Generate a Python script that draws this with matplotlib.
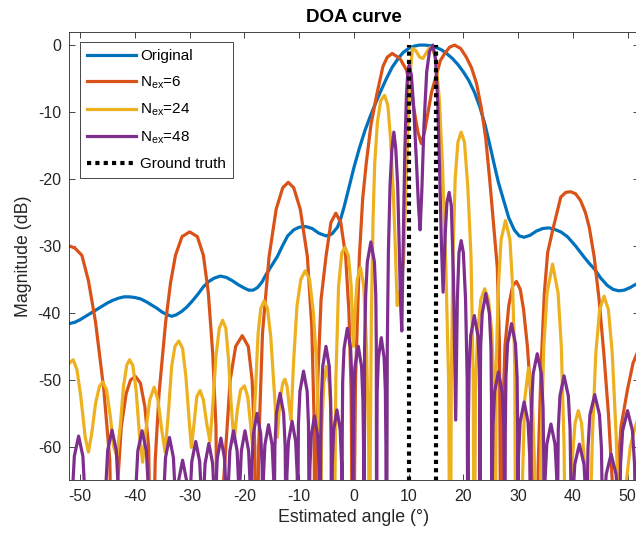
import matplotlib
import numpy as np

matplotlib.use("Agg")
import matplotlib.pyplot as plt

plt.rcParams["font.family"] = ["Liberation Sans", "DejaVu Sans"]
plt.rcParams["mathtext.fontset"] = "custom"
plt.rcParams["mathtext.rm"] = "Liberation Sans"
plt.rcParams["mathtext.it"] = "Liberation Sans:italic"
plt.rcParams["axes.unicode_minus"] = False

# (angle [deg], magnitude [dB]) samples of each spectrum
original = [
    (-52, -41.6), (-51, -41.4), (-50, -41.0), (-49, -40.5), (-48, -40.0), (-47, -39.5),
    (-46, -39.0), (-45, -38.5), (-44, -38.1), (-43, -37.8), (-42, -37.6), (-41, -37.6),
    (-40, -37.7), (-39, -37.9), (-38, -38.3), (-37, -38.8), (-36, -39.3), (-35, -39.9),
    (-34, -40.3), (-33.3, -40.5), (-32.5, -40.3), (-31.5, -39.8), (-30.5, -39.1),
    (-29.5, -38.2), (-28.5, -37.2), (-27.5, -36.1), (-26.5, -35.3), (-25.5, -34.8),
    (-24.4, -34.5), (-23.3, -34.7), (-22.2, -35.2), (-21.1, -35.8), (-20.0, -36.3),
    (-19.2, -36.6), (-18.4, -36.6), (-17.6, -36.2), (-16.8, -35.4), (-16.0, -34.2),
    (-15.0, -32.9), (-14.0, -31.6), (-13.0, -29.9), (-12.1, -28.5), (-11.0, -27.6),
    (-10.0, -27.2), (-8.8, -27.1), (-7.6, -27.4), (-6.4, -28.1), (-5.1, -28.5),
    (-4.0, -28.2), (-3.0, -27.2), (-2.4, -25.9), (-1.8, -24.2), (-1.0, -21.6),
    (0.0, -18.3), (1.0, -15.4), (2.0, -12.8), (3.0, -10.6), (4.0, -8.6), (5.0, -6.7),
    (6.0, -4.9), (7.0, -3.3), (8.0, -2.1), (9.0, -1.1), (10.0, -0.5), (11.0, -0.15),
    (12.0, 0.0), (13.0, 0.0), (14.0, -0.1), (15.0, -0.35), (16.0, -0.7), (17.0, -1.3),
    (18.0, -2.0), (19.0, -2.9), (20.0, -4.0), (21.0, -5.3), (22.0, -7.0), (23.0, -9.2),
    (24.0, -12.0), (25.0, -15.5), (25.6, -17.7), (26.4, -20.5), (27.4, -23.3),
    (28.3, -25.8), (29.3, -27.6), (30.2, -28.5), (31.1, -28.7), (32.2, -28.4),
    (33.3, -27.8), (34.5, -27.4), (35.6, -27.3), (36.6, -27.5), (37.8, -27.9),
    (39.0, -28.6), (40.5, -30.0), (42.0, -31.6), (43.0, -32.6), (43.9, -33.4),
    (45.1, -34.8), (46.3, -35.9), (47.4, -36.5), (48.4, -36.7), (49.4, -36.6),
    (50.5, -36.2), (52, -35.5),
]

nex6 = [
    (-52, -30.0), (-51.0, -30.3), (-49.7, -31.4), (-48.5, -35.2), (-47.2, -41.4),
    (-45.7, -51.4), (-44.6, -62.0), (-44.0, -90.0),
    (-43.2, -66.0), (-42.5, -57.0), (-41.6, -52.0), (-40.8, -50.0), (-39.9, -49.5),
    (-39.0, -50.5), (-38.2, -54.0), (-37.5, -60.0), (-37.0, -90.0),
    (-36.3, -62.0), (-35.6, -52.0), (-34.4, -41.4), (-33.5, -35.5), (-32.6, -31.4),
    (-31.4, -28.6), (-30.0, -27.9), (-28.6, -28.6), (-27.5, -31.4), (-26.6, -37.0),
    (-25.8, -46.0), (-25.2, -57.0), (-24.8, -90.0),
    (-24.2, -70.0), (-23.4, -60.0), (-22.6, -50.0), (-21.6, -45.0), (-20.4, -43.4),
    (-19.3, -45.0), (-18.6, -50.0), (-18.1, -60.0), (-17.8, -90.0),
    (-17.4, -60.0), (-16.7, -43.0), (-15.5, -31.6), (-14.2, -24.5), (-13.0, -21.3),
    (-12.0, -20.5), (-11.0, -21.3), (-9.8, -24.5), (-8.5, -31.6), (-7.7, -42.0),
    (-7.3, -55.0), (-7.0, -90.0),
    (-6.6, -50.0), (-6.0, -38.0), (-5.1, -31.6), (-4.2, -26.5), (-3.3, -25.1),
    (-2.4, -26.5), (-1.5, -31.6), (-0.9, -40.0), (-0.5, -52.0), (-0.2, -90.0),
    (0.3, -50.0), (1.0, -31.6), (1.6, -23.0), (2.25, -17.7), (3.1, -12.0),
    (4.1, -7.7), (5.3, -3.2), (6.1, -1.8), (7.0, -1.25), (8.4, -2.0), (9.6, -3.7),
    (10.4, -6.5), (11.1, -10.2), (11.7, -13.0), (12.3, -14.7), (12.9, -13.0),
    (13.5, -10.2), (14.2, -7.0), (15.0, -4.7), (15.8, -2.3), (16.6, -1.25),
    (17.5, -0.3), (18.4, 0.0), (19.5, -0.5), (20.5, -1.75), (21.5, -3.4),
    (22.4, -5.7), (23.3, -9.5), (24.1, -14.0), (24.8, -20.0), (25.6, -27.5),
    (26.2, -33.2), (26.6, -45.0), (26.9, -90.0),
    (27.2, -55.0), (27.6, -45.0), (28.3, -38.9), (29.0, -36.0), (29.7, -35.3),
    (30.4, -36.5), (31.0, -39.5), (31.7, -45.0), (32.3, -52.0), (32.8, -62.0),
    (33.2, -90.0),
    (33.7, -62.0), (34.2, -48.0), (34.8, -37.0), (35.4, -31.0), (36.3, -27.7),
    (37.8, -22.7), (38.7, -22.0), (39.6, -21.9), (40.5, -22.2), (41.4, -23.2),
    (42.3, -25.0), (43.0, -27.2), (43.9, -31.6), (44.8, -38.0), (45.7, -46.4),
    (46.5, -55.0), (47.2, -65.0), (47.6, -90.0),
    (48.1, -65.0), (48.8, -57.0), (50.0, -51.4), (51.0, -47.5), (52, -45.5),
]

nex24 = [
    (-52, -47.5), (-51.3, -47.0), (-50.6, -48.5), (-49.9, -52.5), (-49.1, -58.5),
    (-48.5, -60.8), (-47.9, -58.0), (-47.2, -53.5), (-46.5, -51.0), (-45.9, -50.3),
    (-45.2, -51.5), (-44.5, -55.5), (-43.9, -60.0), (-43.3, -61.4), (-42.7, -57.0),
    (-42.1, -51.0), (-41.5, -47.8), (-41.0, -47.0), (-40.4, -47.8), (-39.8, -51.5),
    (-39.2, -58.0), (-38.6, -62.3), (-38.0, -57.5), (-37.3, -53.0), (-36.5, -51.1),
    (-35.8, -53.0), (-35.1, -57.5), (-34.5, -60.8), (-33.9, -55.0), (-33.3, -48.0),
    (-32.7, -45.0), (-32.0, -44.2), (-31.3, -45.3), (-30.7, -49.5), (-30.1, -56.0),
    (-29.7, -60.1), (-29.2, -56.5), (-28.7, -52.5), (-28.1, -51.6), (-27.5, -53.0),
    (-26.9, -56.5), (-26.3, -59.2), (-25.8, -54.0), (-25.2, -46.5), (-24.6, -42.3),
    (-24.0, -41.1), (-23.4, -42.3), (-22.9, -47.0), (-22.4, -54.0), (-21.9, -59.3),
    (-21.3, -54.5), (-20.7, -51.5), (-20.0, -50.9), (-19.4, -52.5), (-18.9, -56.5),
    (-18.5, -60.2), (-18.0, -52.0), (-17.5, -43.0), (-17.0, -39.3), (-16.4, -38.2),
    (-15.8, -39.3), (-15.2, -43.5), (-14.6, -51.0), (-14.0, -58.6), (-13.5, -53.0),
    (-13.0, -50.5), (-12.6, -49.9), (-12.2, -51.0), (-11.8, -54.0), (-11.5, -56.0),
    (-11.0, -47.0), (-10.4, -39.0), (-9.7, -35.0), (-8.9, -33.7), (-8.1, -35.0),
    (-7.4, -40.0), (-6.8, -48.0), (-6.4, -60.0), (-6.2, -90.0),
    (-5.9, -58.0), (-5.5, -50.5), (-5.0, -48.0), (-4.5, -50.5), (-4.0, -58.0),
    (-3.7, -90.0),
    (-3.3, -50.0), (-2.8, -36.0), (-2.2, -31.0), (-1.6, -30.2), (-1.0, -31.5),
    (-0.5, -36.0), (-0.1, -45.0), (0.2, -40.0), (0.6, -35.0), (1.2, -33.2),
    (1.8, -36.0), (2.3, -45.0), (2.7, -60.0), (2.85, -90.0),
    (3.0, -60.0), (3.2, -40.0), (3.5, -26.0), (3.8, -17.7), (4.3, -11.5),
    (4.9, -8.3), (5.6, -7.5), (6.2, -9.0), (6.7, -14.0), (7.2, -22.0), (7.6, -31.0),
    (7.9, -38.9), (8.5, -36.5), (9.1, -32.0), (9.5, -22.0), (9.9, -12.0),
    (10.3, -4.0), (10.7, -0.5), (11.3, -0.8), (12.0, -1.8), (12.6, -2.0),
    (13.2, -1.2), (13.8, -0.4), (14.4, -0.25), (15.0, -2.5), (15.6, -8.0),
    (16.2, -18.2), (16.8, -33.2), (17.3, -50.0), (17.6, -90.0),
    (17.8, -50.0), (18.1, -31.6), (18.5, -20.0), (19.0, -14.5), (19.6, -13.0),
    (20.2, -14.5), (20.8, -21.0), (21.4, -31.6), (21.8, -50.0), (22.0, -90.0),
    (22.2, -52.0), (22.6, -43.0), (23.2, -38.0), (23.9, -36.4), (24.6, -38.0),
    (25.2, -43.0), (25.6, -52.0), (25.8, -90.0),
    (26.0, -48.0), (26.4, -36.0), (26.9, -29.0), (27.7, -26.2), (28.5, -29.0),
    (29.0, -36.0), (29.4, -48.0), (29.6, -90.0),
    (30.2, -75.0), (30.8, -65.0), (31.2, -53.0), (31.9, -48.2), (32.6, -53.0),
    (33.1, -65.0), (33.4, -90.0),
    (33.9, -75.0), (34.2, -60.0), (34.7, -45.0), (35.3, -37.0), (36.3, -32.7),
    (37.3, -37.0), (37.9, -45.0), (38.4, -60.0), (38.8, -90.0),
    (39.4, -70.0), (39.9, -62.0), (40.4, -56.5), (41.0, -54.6), (41.6, -56.5),
    (42.1, -62.0), (42.6, -70.0), (42.9, -90.0),
    (43.2, -70.0), (43.6, -58.0), (44.2, -46.0), (44.9, -39.5), (45.7, -37.5),
    (46.5, -39.5), (47.2, -46.0), (47.9, -58.0), (48.4, -70.0), (48.7, -90.0),
    (49.2, -75.0), (49.8, -65.0), (50.5, -60.0), (51.2, -57.6), (52, -55.5),
]

nex48 = [
    (-52, -90.0),
    (-51.6, -90.0), (-51.54, -74.4), (-51.4, -66.4), (-51.08, -61.4), (-50.3, -58.4),
    (-49.52, -61.4), (-49.2, -66.4), (-49.06, -74.4), (-49.0, -90.0),
    (-45.5, -90.0), (-45.44, -73.5), (-45.3, -65.5), (-44.98, -60.5), (-44.2, -57.5),
    (-43.42, -60.5), (-43.1, -65.5), (-42.96, -73.5), (-42.9, -90.0),
    (-40.0, -90.0), (-39.94, -73.6), (-39.8, -65.6), (-39.48, -60.6), (-38.7, -57.6),
    (-37.92, -60.6), (-37.6, -65.6), (-37.46, -73.6), (-37.4, -90.0),
    (-34.9, -90.0), (-34.84, -74.6), (-34.72, -66.6), (-34.42, -61.6), (-33.7, -58.6),
    (-32.98, -61.6), (-32.68, -66.6), (-32.56, -74.6), (-32.5, -90.0),
    (-32.44, -78.0), (-32.32, -70.0), (-32.02, -65.0), (-31.3, -62.0), (-30.58, -65.0),
    (-30.28, -70.0), (-30.16, -78.0), (-30.1, -90.0),
    (-30.04, -75.2), (-29.92, -67.2), (-29.62, -62.2), (-28.9, -59.2), (-28.18, -62.2),
    (-27.88, -67.2), (-27.76, -75.2), (-27.7, -90.0),
    (-27.59, -75.5), (-27.48, -67.5), (-27.19, -62.5), (-26.5, -59.5), (-25.81, -62.5),
    (-25.52, -67.5), (-25.41, -75.5), (-25.4, -90.0),
    (-25.35, -74.7), (-25.24, -66.7), (-24.96, -61.7), (-24.3, -58.7), (-23.64, -61.7),
    (-23.36, -66.7), (-23.25, -74.7), (-23.2, -90.0),
    (-23.15, -73.6), (-22.94, -65.6), (-22.66, -60.6), (-22.0, -57.6), (-21.34, -60.6),
    (-21.06, -65.6), (-21.0, -73.6), (-20.95, -90.0),
    (-20.9, -73.6), (-20.84, -65.6), (-20.56, -60.6), (-19.9, -57.6), (-19.24, -60.6),
    (-18.96, -65.6), (-18.85, -73.6), (-18.8, -90.0),
    (-18.75, -71.0), (-18.64, -63.0), (-18.36, -58.0), (-17.7, -55.0), (-17.04, -58.0),
    (-16.76, -63.0), (-16.68, -71.0), (-16.65, -90.0),
    (-16.62, -72.7), (-16.54, -64.7), (-16.26, -59.7), (-15.6, -56.7), (-14.94, -59.7),
    (-14.66, -64.7), (-14.58, -72.7), (-14.55, -90.0),
    (-14.52, -68.0), (-14.44, -60.0), (-14.16, -55.0), (-13.5, -52.0), (-12.84, -55.0),
    (-12.56, -60.0), (-12.46, -68.0), (-12.4, -90.0),
    (-12.34, -72.2), (-12.24, -64.2), (-11.96, -59.2), (-11.3, -56.2), (-10.64, -59.2),
    (-10.36, -64.2), (-10.28, -72.2), (-10.25, -90.0),
    (-10.2, -64.7), (-10.14, -56.7), (-9.86, -51.7), (-9.2, -48.7), (-8.54, -51.7),
    (-8.3, -56.7), (-8.23, -64.7), (-8.2, -90.0),
    (-8.15, -71.4), (-8.05, -63.4), (-7.8, -58.4), (-7.2, -55.4), (-6.6, -58.4),
    (-6.35, -63.4), (-6.22, -71.4), (-6.15, -90.0),
    (-6.08, -61.0), (-5.95, -53.0), (-5.7, -48.0), (-5.1, -45.0), (-4.5, -48.0),
    (-4.25, -53.0), (-4.15, -61.0), (-4.1, -90.0),
    (-4.05, -70.5), (-3.95, -62.5), (-3.7, -57.5), (-3.1, -54.5), (-2.5, -57.5),
    (-2.25, -62.5), (-2.17, -70.5), (-2.15, -90.0),
    (-2.13, -58.3), (-2.05, -50.3), (-1.8, -45.3), (-1.2, -42.3), (-0.6, -45.3),
    (-0.35, -50.3), (-0.25, -58.3), (-0.2, -90.0),
    (-0.15, -61.0), (-0.05, -53.0), (0.2, -48.0), (0.8, -45.0), (1.4, -48.0),
    (1.65, -53.0), (1.78, -61.0), (1.85, -90.0),
    (1.95, -45.4), (2.15, -37.4), (2.45, -32.4), (3.1, -29.4), (3.75, -32.4),
    (4.0, -37.4), (4.1, -45.4), (4.15, -90.0),
    (4.2, -59.7), (4.25, -51.7), (4.48, -46.7), (5.0, -43.7), (5.52, -46.7),
    (5.75, -51.7), (5.85, -59.7), (5.95, -90.0),
    (6.1, -45.0), (6.3, -31.0), (6.6, -21.0), (6.95, -15.5), (7.3, -13.0),
    (7.65, -15.5), (8.0, -21.0), (8.3, -31.0), (8.55, -39.0), (8.75, -42.7),
    (9.0, -30.0), (9.3, -16.0), (9.6, -7.5), (9.85, -4.0), (10.1, -3.0),
    (10.5, -4.5), (10.9, -9.0), (11.4, -17.0), (11.8, -24.0), (12.1, -27.6),
    (12.4, -22.0), (12.8, -12.0), (13.3, -4.0), (13.8, -1.0), (14.4, 0.0),
    (14.9, -2.0), (15.3, -8.0), (15.7, -20.0), (16.0, -30.0), (16.3, -36.9),
    (16.7, -28.0), (17.0, -23.5), (17.4, -22.0), (17.8, -24.0), (18.2, -35.0),
    (18.6, -56.0), (18.9, -38.0), (19.2, -31.0), (19.6, -29.2), (20.0, -31.0),
    (20.4, -38.0), (20.7, -50.0), (20.85, -90.0),
    (20.92, -56.4), (21.06, -48.4), (21.34, -43.4), (22.0, -40.4), (22.66, -43.4),
    (22.94, -48.4), (23.02, -56.4), (23.05, -90.0),
    (23.08, -53.1), (23.16, -45.1), (23.44, -40.1), (24.1, -37.1), (24.76, -40.1),
    (25.04, -45.1), (25.14, -53.1), (25.2, -90.0),
    (25.3, -64.8), (25.42, -56.8), (25.71, -51.8), (26.4, -48.8), (27.09, -51.8),
    (27.38, -56.8), (27.49, -64.8), (27.55, -90.0),
    (27.66, -57.6), (27.78, -49.6), (28.08, -44.6), (28.8, -41.6), (29.52, -44.6),
    (29.82, -49.6), (29.92, -57.6), (29.95, -90.0),
    (29.98, -69.3), (30.08, -61.3), (30.38, -56.3), (31.1, -53.3), (31.82, -56.3),
    (32.12, -61.3), (32.24, -69.3), (32.3, -90.0),
    (32.35, -62.1), (32.44, -54.1), (32.75, -49.1), (33.5, -46.1), (34.25, -49.1),
    (34.56, -54.1), (34.69, -62.1), (34.75, -90.0),
    (34.81, -72.6), (34.94, -64.6), (35.25, -59.6), (36.0, -56.6), (36.75, -59.6),
    (37.06, -64.6), (37.15, -72.6), (37.2, -90.0),
    (37.25, -65.4), (37.34, -57.4), (37.65, -52.4), (38.4, -49.4), (39.18, -52.4),
    (39.5, -57.4), (39.64, -65.4), (39.8, -90.0),
    (39.87, -75.6), (40.01, -67.6), (40.36, -62.6), (41.2, -59.6), (42.04, -62.6),
    (42.39, -67.6), (42.53, -75.6), (42.6, -90.0),
    (42.62, -68.2), (42.77, -60.2), (43.13, -55.2), (44.0, -52.2), (44.87, -55.2),
    (45.23, -60.2), (45.38, -68.2), (45.45, -90.0),
    (45.57, -77.1), (45.72, -69.1), (46.1, -64.1), (47.0, -61.1), (47.9, -64.1),
    (48.28, -69.1), (48.43, -77.1), (48.5, -90.0),
    (48.57, -70.6), (48.72, -62.6), (49.1, -57.6), (50.0, -54.6), (50.9, -57.6),
    (51.28, -62.6), (51.43, -70.6), (51.5, -90.0), (52, -80.0),
]

truth_deg = [10, 15]
truth_top = 0.0

series = [
    (original, "#0072BD", "Original"),
    (nex6, "#D95319", r"N$_{\mathrm{ex}}$=6"),
    (nex24, "#EDB120", r"N$_{\mathrm{ex}}$=24"),
    (nex48, "#7E2F8E", r"N$_{\mathrm{ex}}$=48"),
]

fig = plt.figure(figsize=(6.36, 5.38), dpi=100)
ax = fig.add_axes([69.3 / 636, 57.7 / 538, 569.2 / 636, 448.6 / 538])

for pts, color, label in series:
    x, y = np.array(pts).T
    ax.plot(x, y, color=color, lw=2.3, label=label, solid_joinstyle="round")

# ground-truth directions as dotted verticals
gx, gy = [], []
for d in truth_deg:
    gx += [d, d, np.nan]
    gy += [-90, truth_top, np.nan]
ax.plot(gx, gy, color="black", lw=3, linestyle=(0, (1, 1)), dash_capstyle="butt",
        label="Ground truth")

ax.set_xlim(-52, 52)
ax.set_ylim(-65, 2)
ax.set_xticks(np.arange(-50, 51, 10))
ax.set_yticks(np.arange(-60, 1, 10))
ax.tick_params(direction="in", top=True, right=True, length=4, width=0.6,
               labelsize=11.5, colors="#262626", pad=6)
for s in ax.spines.values():
    s.set_color("#262626")
    s.set_linewidth(0.6)

ax.set_xlabel("Estimated angle (°)", fontsize=12.8, color="#262626")
ax.set_ylabel("Magnitude (dB)", fontsize=12.8, color="#262626")
ax.set_title("DOA curve", fontsize=13.5, fontweight="bold", pad=7)

leg = ax.legend(loc="upper left", bbox_to_anchor=(0.019, 0.977), fontsize=11,
                handlelength=3.2, handletextpad=0.3, borderaxespad=0,
                labelspacing=0.74, fancybox=False, framealpha=1, borderpad=0.45)
leg.get_frame().set_edgecolor("#262626")
leg.get_frame().set_linewidth(0.6)

fig.savefig("out.png", dpi=100)
